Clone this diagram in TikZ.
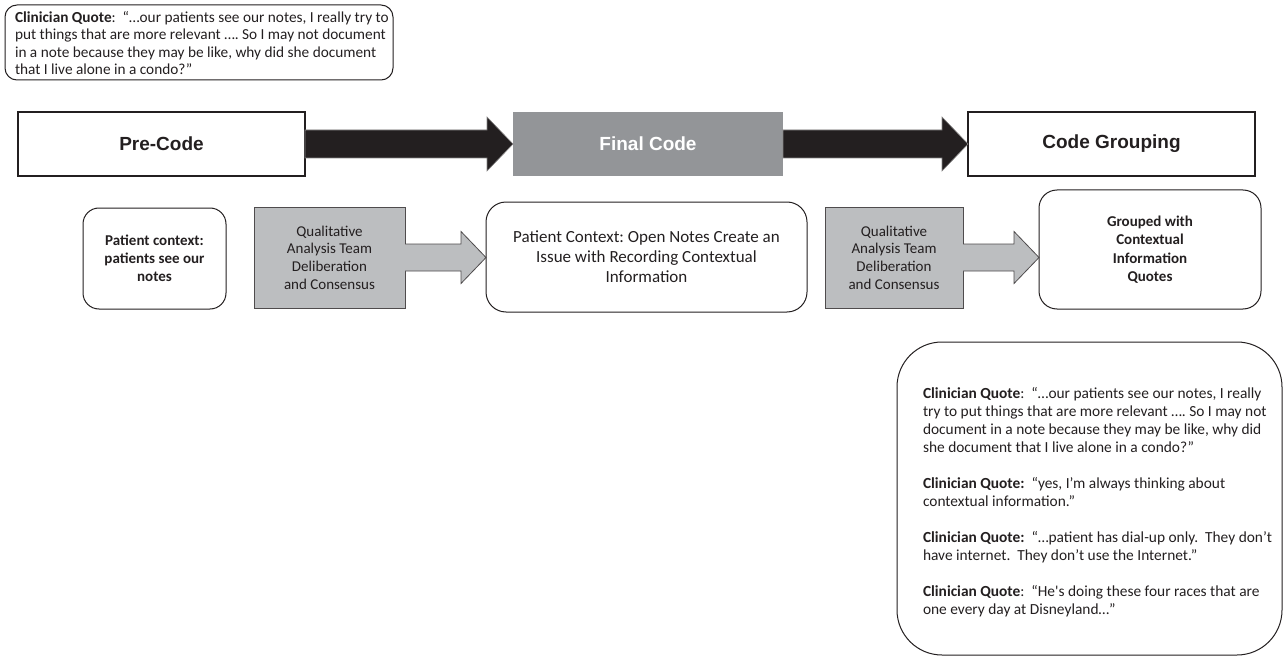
\documentclass[tikz,border=0pt]{standalone}
\usepackage{fontspec}
\setmainfont{Carlito}
\newfontfamily\headfont{Liberation Sans}
\usepackage{xcolor}
\usetikzlibrary{calc}
\definecolor{inkblack}{HTML}{231F20}
\definecolor{codegray}{HTML}{939598}
\definecolor{teamgray}{HTML}{BCBEC0}
\frenchspacing

\begin{document}
\begin{tikzpicture}[x=1pt, y=-1pt, every node/.style={inner sep=0pt, outer sep=0pt, text=inkblack},
  headbox/.style={rectangle, draw=inkblack, line width=2pt, minimum height=64pt, font=\headfont\bfseries\fontsize{19}{23}\selectfont},
  notebox/.style={rectangle, rounded corners=16pt, draw=inkblack, line width=1pt, align=center},
  teambox/.style={rectangle, draw=inkblack!80, line width=0.8pt, fill=teamgray, minimum height=101pt, align=center, font=\fontsize{15}{17.7}\selectfont},
  quotetxt/.style={anchor=north west, align=left},
  bigarrow/.style={fill=inkblack, draw=inkblack!55, line width=0.6pt},
  teamline/.style={draw=inkblack!80, line width=0.8pt, line join=miter}]
  \useasboundingbox (0,0) rectangle (1283,658);

  % quote at the top
  \node[notebox, rounded corners=12pt, minimum width=388pt, minimum height=75pt] (quote) at (199,42.5) {};
  \node[quotetxt, font=\fontsize{15.3}{17.6}\selectfont] (quotetext) at ($(quote.north west)+(10,6)$)
    {\textbf{Clinician Quote}:\ \ “…our patients see our notes, I really try to\\
     put things that are more relevant …. So I may not document\\
     in a note because they may be like, why did she document\\
     that I live alone in a condo?”};

  % coding stages
  \node[headbox, minimum width=287pt] (pre) at (161.5,144) {Pre-Code};
  \node[headbox, minimum width=270pt, fill=codegray, draw=none, text=white] (final) at (648,144) {Final Code};
  \node[headbox, minimum width=287pt] (group) at (1111.5,144) {Code Grouping};

  % codes
  \node[notebox, minimum width=143pt, minimum height=101pt, font=\bfseries\fontsize{15}{18}\selectfont] (ctx) at (154.5,258.5)
    {Patient context:\\ patients see our\\ notes};
  \node[teambox, minimum width=151pt] (team1) at (329.5,257.5)
    {Qualitative\\ Analysis Team\\ Deliberation\\ and Consensus};
  \node[notebox, rounded corners=20pt, minimum width=321pt, minimum height=110pt, font=\fontsize{17}{20}\selectfont] (open) at (646.5,257)
    {Patient Context: Open Notes Create an\\ Issue with Recording Contextual\\ Information};
  \node[teambox, minimum width=138pt] (team2) at (894,257.5)
    {Qualitative\\ Analysis Team\\ Deliberation\\ and Consensus};
  \node[notebox, rounded corners=18pt, minimum width=222pt, minimum height=119pt, font=\bfseries\fontsize{15}{18.5}\selectfont] (grouped) at (1150,249.5)
    {Grouped with\\ Contextual\\ Information\\ Quotes};

  % grouped quotes
  \node[notebox, rounded corners=45pt, minimum width=385pt, minimum height=313pt] (quotes) at (1089.5,498.5) {};
  \node[quotetxt, font=\fontsize{15.4}{18}\selectfont] (quotestext) at ($(quotes.north west)+(26,45)$)
    {\textbf{Clinician Quote}:\ \ “…our patients see our notes, I really\\
     try to put things that are more relevant …. So I may not\\
     document in a note because they may be like, why did\\
     she document that I live alone in a condo?”\\[18pt]
     \textbf{Clinician Quote:}\ \ “yes, I’m always thinking about\\
     contextual information.”\\[18pt]
     \textbf{Clinician Quote:}\ \ “…patient has dial-up only.\ \ They don’t\\
     have internet.\ \ They don’t use the Internet.”\\[18pt]
     \textbf{Clinician Quote}:\ \ “He\textquotesingle s doing these four races that are\\
     one every day at Disneyland…”};

  % arrows
  \foreach \a/\b in {pre/final, final/group}
    \draw[bigarrow] ($(\a.east)+(0,-14)$) -- ($(\a.east -| \b.west)+(-26,-14)$) -- ($(\a.east -| \b.west)+(-26,-27)$)
      -- (\a.east -| \b.west) -- ($(\a.east -| \b.west)+(-26,27)$) -- ($(\a.east -| \b.west)+(-26,14)$) -- ($(\a.east)+(0,14)$) -- cycle;
  \foreach \a/\b in {team1/open, team2/grouped} {
    \fill[teamgray] ($(\a.east)+(-1.5,-13.5)$) -- ($(\a.east -| \b.west)+(-25,-13.5)$) -- ($(\a.east -| \b.west)+(-25,-26)$)
      -- (\a.east -| \b.west) -- ($(\a.east -| \b.west)+(-25,26)$) -- ($(\a.east -| \b.west)+(-25,13.5)$) -- ($(\a.east)+(-1.5,13.5)$) -- cycle;
    \draw[teamline] ($(\a.east)+(0,-13.5)$) -- ($(\a.east -| \b.west)+(-25,-13.5)$) -- ($(\a.east -| \b.west)+(-25,-26)$)
      -- (\a.east -| \b.west) -- ($(\a.east -| \b.west)+(-25,26)$) -- ($(\a.east -| \b.west)+(-25,13.5)$) -- ($(\a.east)+(0,13.5)$);
  }
\end{tikzpicture}
\end{document}
